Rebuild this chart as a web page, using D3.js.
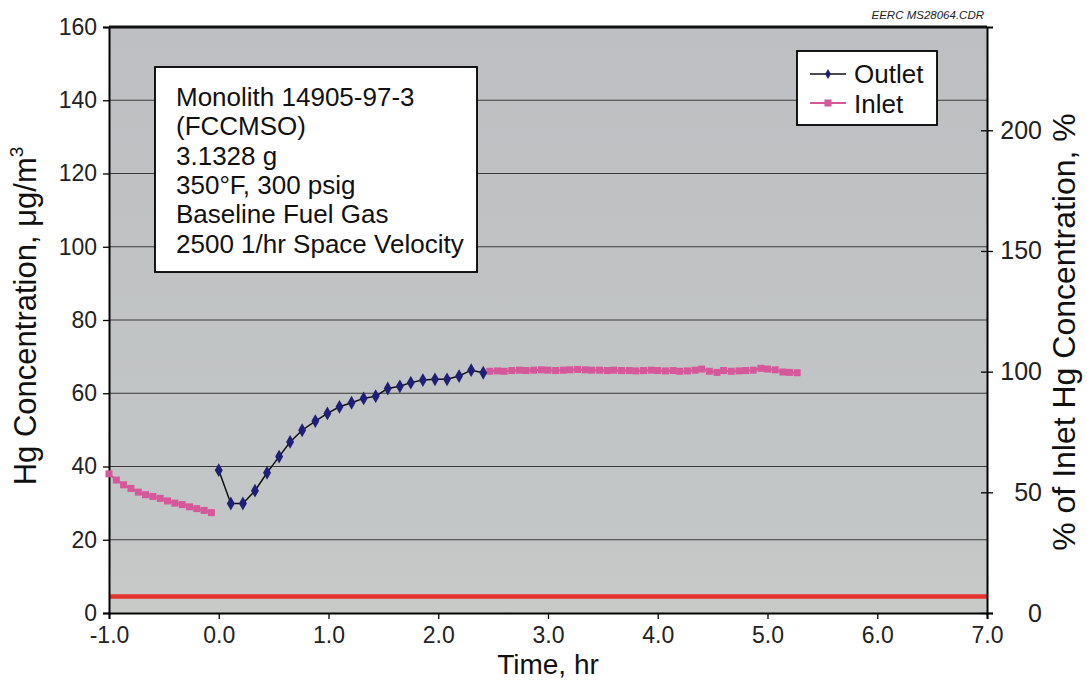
<!DOCTYPE html>
<html>
<head>
<meta charset="utf-8">
<script src="https://cdn.jsdelivr.net/npm/d3@7"></script>
<style>
body { margin:0; background:#fff; }
svg { font-family: "Liberation Sans", Arial, sans-serif; }
</style>
</head>
<body>
<svg id="chart" width="1087" height="687"></svg>
<script>
// data
var inlet_t1 = [-1.0,-0.933,-0.867,-0.8,-0.733,-0.667,-0.6,-0.533,-0.467,-0.4,-0.333,-0.267,-0.2,-0.133,-0.067]
var inlet_v1 = [38.0,36.3,35.0,34.0,33.0,32.3,31.8,31.3,30.6,30.0,29.6,29.0,28.5,28.0,27.4]

var outlet_t = [0.0,0.11,0.22,0.33,0.44,0.55,0.65,0.76,0.88,0.99,1.10,1.21,1.32,1.43,1.54,1.65,1.75,1.86,1.97,2.08,2.19,2.30,2.41]
var outlet_v = [39.0,29.9,29.9,33.4,38.3,42.7,46.7,49.9,52.4,54.5,56.3,57.4,58.6,59.2,61.3,61.9,62.9,63.6,63.8,63.8,64.7,66.3,65.6]

var inlet_t2 = [2.47,2.54,2.60,2.67,2.74,2.80,2.87,2.94,3.00,3.07,3.14,3.20,3.27,3.34,3.40,3.47,3.54,3.60,3.67,3.74,3.80,3.87,3.94,4.00,4.07,4.14,4.20,4.27,4.34,4.40,4.47,4.54,4.60,4.67,4.74,4.80,4.87,4.94,5.00,5.07,5.14,5.20,5.27]
var inlet_v2 = [66.0,66.1,66.0,66.2,66.3,66.2,66.3,66.4,66.3,66.2,66.3,66.4,66.5,66.4,66.3,66.3,66.2,66.3,66.2,66.2,66.1,66.2,66.3,66.2,66.1,66.2,66.0,66.1,66.3,66.6,66.0,65.7,66.2,66.0,66.1,66.2,66.3,66.8,66.6,66.4,65.8,65.7,65.6]

var limit_v = 4.5
var xticks = [-1,0,1,2,3,4,5,6,7]
var yticks = [0,20,40,60,80,100,120,140,160]
var rticks = [0,50,100,150,200]
var info_lines = ["Monolith 14905-97-3","(FCCMSO)","3.1328 g","350°F, 300 psig","Baseline Fuel Gas","2500 1/hr Space Velocity"]

var svg = d3.select("#chart")
var L = 109, R = 987, T = 27, B = 613

var x = d3.scaleLinear().domain([-1,7]).range([L,R])
var y = d3.scaleLinear().domain([0,160]).range([B,T])
var inletRef = 65.9
var y2 = d3.scaleLinear().domain([0,160*100/inletRef]).range([B,T])

// plot background
var grad = svg.append("defs").append("linearGradient").attr("id","bg").attr("x1",0).attr("y1",0).attr("x2",0).attr("y2",1)
grad.append("stop").attr("offset","0%").attr("stop-color","#bdbfc2")
grad.append("stop").attr("offset","85%").attr("stop-color","#c3c6c6")
grad.append("stop").attr("offset","100%").attr("stop-color","#c8cac8")
svg.append("rect").attr("x",L).attr("y",T).attr("width",R-L).attr("height",B-T).attr("fill","url(#bg)")

// grid
svg.selectAll(".grid").data(yticks.slice(1,-1)).enter().append("line")
    .attr("x1",L).attr("x2",R).attr("y1",function(d){return y(d)}).attr("y2",function(d){return y(d)})
    .attr("stroke","#3a3a3a").attr("stroke-width",1.2)

// red line
svg.append("line").attr("x1",L).attr("x2",R).attr("y1",y(limit_v)).attr("y2",y(limit_v))
    .attr("stroke","#e6322e").attr("stroke-width",4.5)

// axes
var ax = svg.append("g").attr("transform","translate(0,"+B+")")
    .call(d3.axisBottom(x).tickValues(xticks).tickFormat(function(d){return d3.format(".1f")(d).replace("−","-")}).tickSize(6).tickPadding(8))
var ay = svg.append("g").attr("transform","translate("+L+",0)")
    .call(d3.axisLeft(y).tickValues(yticks).tickSize(6).tickPadding(6))
var ar = svg.append("g").attr("transform","translate("+R+",0)")
    .call(d3.axisRight(y2).tickValues(rticks).tickSize(6).tickPadding(16))

svg.selectAll(".domain").attr("stroke","#000").attr("stroke-width",2)
svg.selectAll(".tick line").attr("stroke","#000").attr("stroke-width",1.3)
svg.selectAll(".tick text").attr("font-family","Liberation Sans, Arial, sans-serif").attr("font-size","23px").attr("fill","#222")
ar.selectAll(".tick line").attr("x1",-6)
ar.selectAll(".tick text").attr("text-anchor","end").attr("x",55).attr("font-size","25px")
// top border
svg.append("line").attr("x1",L).attr("x2",R).attr("y1",T).attr("y2",T).attr("stroke","#111").attr("stroke-width",3)

// series
var line = d3.line().x(function(d){return x(d[0])}).y(function(d){return y(d[1])})
var inlet1 = inlet_t1.map(function(t,i){return [t,inlet_v1[i]]})
var inlet2 = inlet_t2.map(function(t,i){return [t,inlet_v2[i]]})
var outlet = outlet_t.map(function(t,i){return [t,outlet_v[i]]})
var pink = "#d4589a"

;[inlet1,inlet2].forEach(function(s){
    svg.append("path").datum(s).attr("d",line).attr("fill","none").attr("stroke",pink).attr("stroke-width",2)
    svg.append("g").selectAll("rect").data(s).enter().append("rect")
        .attr("x",function(d){return x(d[0])-3.5}).attr("y",function(d){return y(d[1])-3.5})
        .attr("width",7).attr("height",7).attr("fill",pink)
})
svg.append("path").datum(outlet).attr("d",line).attr("fill","none").attr("stroke","#111").attr("stroke-width",1.5)
var diamond = d3.symbol().type(d3.symbolDiamond).size(55)
svg.append("g").selectAll("path").data(outlet).enter().append("path")
    .attr("d",diamond).attr("transform",function(d){return "translate("+x(d[0])+","+y(d[1])+")"})
    .attr("fill","#1f1f78")

// info box
svg.append("rect").attr("x",155).attr("y",67).attr("width",322).attr("height",205)
    .attr("fill","#fff").attr("stroke","#000").attr("stroke-width",1.8)
svg.selectAll(".info").data(info_lines).enter().append("text")
    .attr("x",176).attr("y",function(d,i){return 106+i*29.3})
    .attr("font-size","26px").attr("fill","#111").text(function(d){return d})

// legend
svg.append("rect").attr("x",797).attr("y",51).attr("width",140).attr("height",74)
    .attr("fill","#fff").attr("stroke","#000").attr("stroke-width",1.8)
svg.append("line").attr("x1",810).attr("x2",846).attr("y1",74).attr("y2",74).attr("stroke","#111").attr("stroke-width",1.5)
svg.append("path").attr("d",d3.symbol().type(d3.symbolDiamond).size(30)).attr("transform","translate(828,74)").attr("fill","#1f1f78")
svg.append("line").attr("x1",810).attr("x2",846).attr("y1",103).attr("y2",103).attr("stroke",pink).attr("stroke-width",2)
svg.append("rect").attr("x",824.5).attr("y",99.5).attr("width",7).attr("height",7).attr("fill",pink)
svg.append("text").attr("x",854).attr("y",83).attr("font-size","26px").attr("fill","#111").text("Outlet")
svg.append("text").attr("x",854).attr("y",113).attr("font-size","26px").attr("fill","#111").text("Inlet")

// titles
svg.append("text").attr("x",548).attr("y",674).attr("text-anchor","middle").attr("font-size","28px").attr("fill","#111").text("Time, hr")
var lt = svg.append("text").attr("transform","translate(36,316) rotate(-90)").attr("text-anchor","middle")
    .attr("font-size","31px").attr("fill","#111")
lt.append("tspan").text("Hg Concentration, μg/m")
lt.append("tspan").attr("font-size","19px").attr("dy","-13").text("3")
svg.append("text").attr("transform","translate(1075,332) rotate(-90)").attr("text-anchor","middle")
    .attr("font-size","32px").attr("fill","#111").text("% of Inlet Hg Concentration, %")

svg.append("text").attr("x",984).attr("y",19).attr("text-anchor","end").attr("font-size","11.5px")
    .attr("font-style","italic").attr("fill","#222").text("EERC MS28064.CDR")
</script>
</body>
</html>
